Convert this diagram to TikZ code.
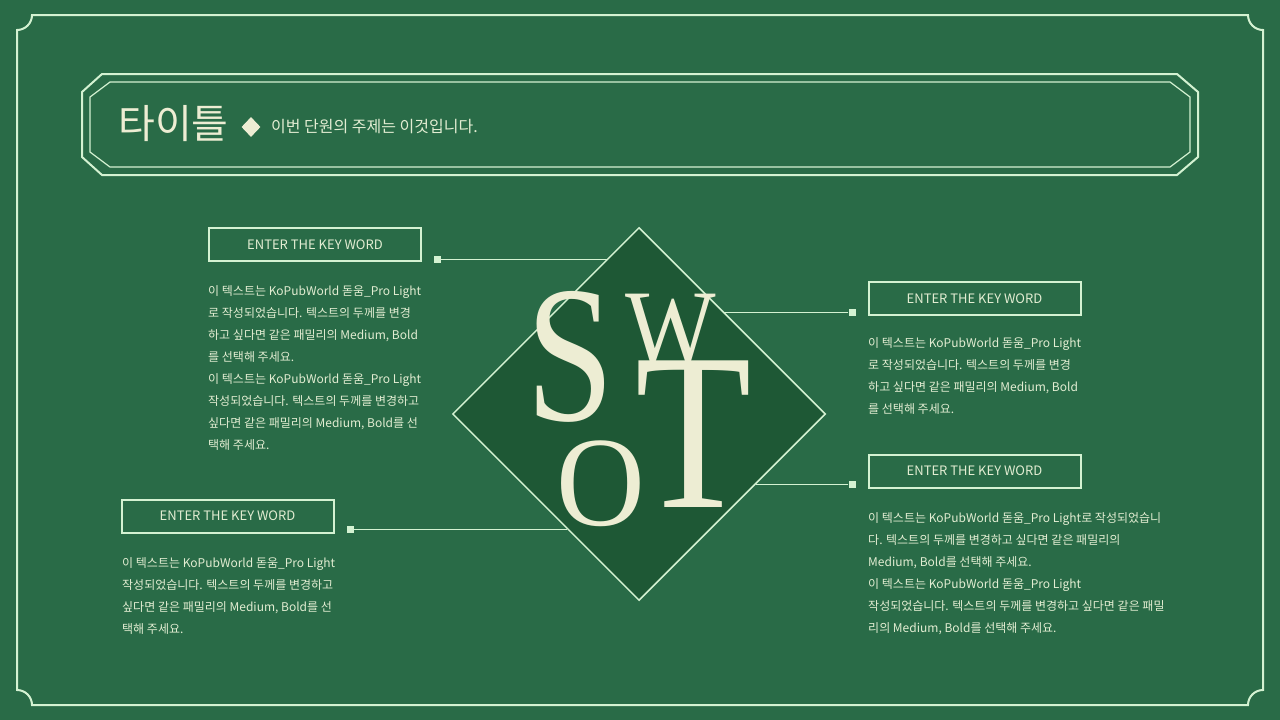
\documentclass[tikz,border=0pt]{standalone}
\usepackage{fontspec}
\usepackage{graphicx}
\setmainfont{Noto Sans CJK KR}
\newfontfamily\swotserif{Liberation Serif}
\usetikzlibrary{shapes.geometric}
\definecolor{bg}{HTML}{296B47}
\definecolor{dk}{HTML}{1E5835}
\definecolor{ln}{HTML}{D4F2D2}
\definecolor{tx}{HTML}{E2EDD2}
\definecolor{cr}{HTML}{EDEDD3}
\begin{document}
\begin{tikzpicture}[x=1pt,y=-1pt,
  kwbox/.style={draw=ln, line width=2pt, minimum width=212, minimum height=33, inner sep=0, text=tx, font=\fontsize{13}{13}\selectfont},
  dot/.style={rectangle, fill=ln, minimum size=7, inner sep=0},
  conn/.style={draw=ln, line width=0.8pt},
  body/.style={text=tx, font=\fontsize{12}{22}\selectfont, align=left, inner sep=0, anchor=north west},
  letter/.style={text=cr, inner sep=0, anchor=center}]
\fill[bg] (0,0) rectangle (1280,720);
\useasboundingbox (0,0) rectangle (1280,720);
% outer frame
\draw[ln, line width=2pt] (32,15) -- (1248,15) arc[start angle=180, end angle=90, radius=15]
  -- (1263,690) arc[start angle=270, end angle=180, radius=15]
  -- (32,705) arc[start angle=0, end angle=-90, radius=15]
  -- (17,30) arc[start angle=90, end angle=0, radius=15] -- cycle;
% title octagons
\draw[ln, line width=2pt] (102,74) -- (1177,74) -- (1198,92) -- (1198,157) -- (1177,175) -- (102,175) -- (82,157) -- (82,92) -- cycle;
\draw[ln, line width=1.2pt] (110,82) -- (1170,82) -- (1190,97) -- (1190,152) -- (1170,167) -- (110,167) -- (90,152) -- (90,97) -- cycle;
\node[anchor=west, text=cr, font=\fontsize{40}{40}\selectfont, inner sep=0] (title) at (118,124) {타이틀};
\node[diamond, fill=cr, minimum width=19, minimum height=20, inner sep=0] (mk) at (251,127) {};
\node[anchor=west, text=tx, font=\fontsize{16}{16}\selectfont, inner sep=0] (sub) at (271,127) {이번 단원의 주제는 이것입니다.};
% connectors
\node[dot] (sq1) at (437,259) {};
\node[dot] (sq2) at (350,529) {};
\node[dot] (sq3) at (852,312) {};
\node[dot] (sq4) at (852,484) {};
\coordinate (e1) at (608,259);
\coordinate (e2) at (723,312);
\coordinate (e3) at (756,484);
\coordinate (e4) at (567,529);
\draw[conn] (sq1) -- (e1);
\draw[conn] (sq2) -- (e4);
\draw[conn] (sq3) -- (e2);
\draw[conn] (sq4) -- (e3);
% central diamond
\node[diamond, draw=ln, fill=dk, line width=1.5pt, minimum width=373, minimum height=373, inner sep=0, aspect=1] (swot) at (639,414) {};
\node[letter, font=\swotserif\fontsize{195}{195}\selectfont] (S) at (570,357) {\scalebox{0.81}[1]{S}};
\node[letter, font=\swotserif\fontsize{109}{109}\selectfont] (W) at (671,331) {\scalebox{0.88}[1]{W}};
\node[letter, font=\swotserif\fontsize{224}{224}\selectfont] (T) at (694,434) {\scalebox{0.85}[1]{T}};
\node[letter, font=\swotserif\fontsize{128}{128}\selectfont] (O) at (601,484) {\scalebox{0.96}[1]{O}};
% keyword boxes
\node[kwbox] (k1) at (315,244.5) {ENTER THE KEY WORD};
\node[kwbox] (k2) at (227.5,516) {ENTER THE KEY WORD};
\node[kwbox] (k3) at (974.5,298.5) {ENTER THE KEY WORD};
\node[kwbox] (k4) at (974.5,471) {ENTER THE KEY WORD};
% body texts
\node[body] (b1) at (208,285) {이 텍스트는 KoPubWorld 돋움\_Pro Light\\로 작성되었습니다. 텍스트의 두께를 변경\\하고 싶다면 같은 패밀리의 Medium, Bold\\를 선택해 주세요.\\이 텍스트는 KoPubWorld 돋움\_Pro Light\\작성되었습니다. 텍스트의 두께를 변경하고\\싶다면 같은 패밀리의 Medium, Bold를 선\\택해 주세요.};
\node[body] (b2) at (122,557) {이 텍스트는 KoPubWorld 돋움\_Pro Light\\작성되었습니다. 텍스트의 두께를 변경하고\\싶다면 같은 패밀리의 Medium, Bold를 선\\택해 주세요.};
\node[body] (b3) at (868,337) {이 텍스트는 KoPubWorld 돋움\_Pro Light\\로 작성되었습니다. 텍스트의 두께를 변경\\하고 싶다면 같은 패밀리의 Medium, Bold\\를 선택해 주세요.};
\node[body] (b4) at (868,512) {이 텍스트는 KoPubWorld 돋움\_Pro Light로 작성되었습니\\다. 텍스트의 두께를 변경하고 싶다면 같은 패밀리의\\Medium, Bold를 선택해 주세요.\\이 텍스트는 KoPubWorld 돋움\_Pro Light\\작성되었습니다. 텍스트의 두께를 변경하고 싶다면 같은 패밀\\리의 Medium, Bold를 선택해 주세요.};
\end{tikzpicture}
\end{document}
